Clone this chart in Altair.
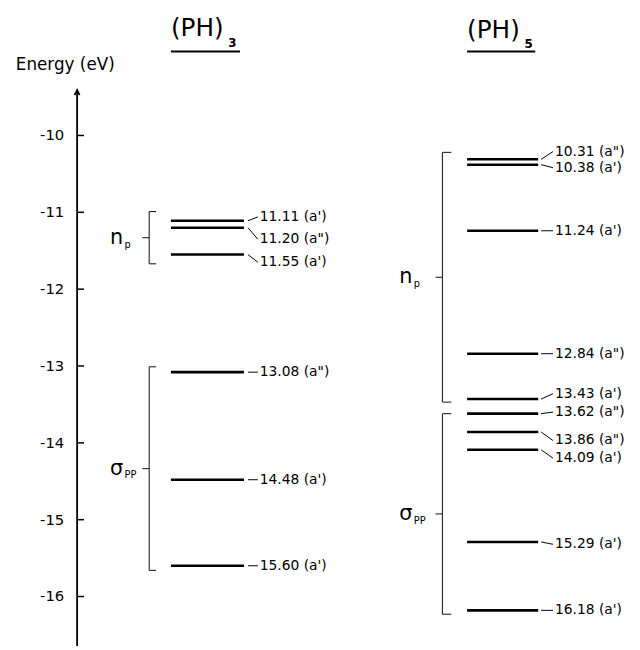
import altair as alt
import pandas as pd

# ---------------- data ----------------
ph3_energy = [-11.11, -11.20, -11.55, -13.08, -14.48, -15.60]
ph3_sym = ["a'", 'a"', "a'", 'a"', "a'", "a'"]
ph3_label_at = [-11.06, -11.35, -11.65, -13.08, -14.48, -15.60]

ph5_energy = [-10.31, -10.38, -11.24, -12.84, -13.43, -13.62, -13.86, -14.09, -15.29, -16.18]
ph5_sym = ['a"', "a'", "a'", 'a"', "a'", 'a"', 'a"', "a'", "a'", "a'"]
ph5_label_at = [-10.21, -10.42, -11.24, -12.84, -13.36, -13.60, -13.97, -14.20, -15.32, -16.18]

axis_ticks = [-10, -11, -12, -13, -14, -15, -16]

bracket_mol = ["PH3", "PH3", "PH5", "PH5"]
bracket_sym = ["n", "σ", "n", "σ"]
bracket_sub = ["p", "PP", "p", "PP"]
bracket_top = [-10.99, -13.01, -10.22, -13.62]
bracket_bottom = [-11.67, -15.66, -13.47, -16.23]

# ---------------- layout (chart pixels) ----------------
W, H = 632, 642
FONT = "DejaVu Sans"
col = {
    "PH3": dict(x0=165, x1=239, lx0=243, lx1=253, tx=255, bx=143, lab=110),
    "PH5": dict(x0=465, x1=537, lx0=540, lx1=552, tx=554, bx=440, lab=403),
}

rows = []
for mol, en, sy, la in [("PH3", ph3_energy, ph3_sym, ph3_label_at),
                        ("PH5", ph5_energy, ph5_sym, ph5_label_at)]:
    for e, s, l in zip(en, sy, la):
        c = col[mol]
        rows.append(dict(mol=mol, energy=e, label_energy=l,
                         text=f"{abs(e):.2f} ({s})",
                         x0=c["x0"], x1=c["x1"], lx0=c["lx0"], lx1=c["lx1"], tx=c["tx"]))
levels = pd.DataFrame(rows)

brows = []
for m, sy, sb, t, b in zip(bracket_mol, bracket_sym, bracket_sub, bracket_top, bracket_bottom):
    c = col[m]
    bx = c["bx"]
    tick = 7 if m == "PH3" else 9
    brows.append(dict(sym=sy, sub=sb, top=t, bottom=b, mid=(t + b) / 2,
                      bx=bx, bxr=bx + tick, bxl=bx - 7,
                      lab=c["lab"], sublab=c["lab"] + 8))
brackets = pd.DataFrame(brows)

ticks = pd.DataFrame({"e": axis_ticks,
                      "lab": [f"-{abs(t)}" for t in axis_ticks]})

xs = alt.Scale(domain=[0, W], nice=False, zero=False)
ys = alt.Scale(domain=[-16.643, -8.394], nice=False, zero=False)


def X(f):
    return alt.X(f, type="quantitative", scale=xs, axis=None)


def Y(f):
    return alt.Y(f, type="quantitative", scale=ys, axis=None)


one = pd.DataFrame({"k": [0]})

# axis
axis_line = alt.Chart(one).mark_rule(color="black", strokeWidth=1.8).encode(
    x=alt.value(70), y=alt.value(79), y2=alt.value(H))
arrow = alt.Chart(one).mark_point(
    shape="M-0.8,1.6L0,0L0.8,1.6", filled=False, color="black",
    strokeWidth=1.8, size=40, opacity=1).encode(x=alt.value(70), y=alt.value(79))
tick_marks = alt.Chart(ticks).mark_rule(color="black", strokeWidth=1.5).encode(
    x=alt.value(70), x2=alt.value(77), y=Y("e"))
tick_labels = alt.Chart(ticks).mark_text(
    align="right", baseline="middle", font=FONT, fontSize=15, color="black").encode(
    x=alt.value(57), y=Y("e"), text="lab:N")
energy_title = alt.Chart(one).mark_text(
    align="center", baseline="middle", font=FONT, fontSize=17, color="black").encode(
    x=alt.value(58), y=alt.value(54), text=alt.value("Energy (eV)"))

# column titles
titles = []
for x0, x1, ty, sub, sy in [(165, 235, 16, "3", 31), (465, 534, 18, "5", 32)]:
    titles.append(alt.Chart(one).mark_text(
        align="left", baseline="middle", font=FONT, fontSize=25, color="black").encode(
        x=alt.value(x0), y=alt.value(ty), text=alt.value("(PH)")))
    titles.append(alt.Chart(one).mark_text(
        align="left", baseline="middle", font=FONT, fontSize=12, fontWeight="bold",
        color="black").encode(
        x=alt.value(x0 + 58), y=alt.value(sy), text=alt.value(sub)))
    titles.append(alt.Chart(one).mark_rule(color="black", strokeWidth=2).encode(
        x=alt.value(x0), x2=alt.value(x1), y=alt.value(40)))

# energy levels
level_lines = alt.Chart(levels).mark_rule(color="black", strokeWidth=2.6).encode(
    x=X("x0"), x2=alt.X2("x1"), y=Y("energy"))
leaders = alt.Chart(levels).mark_rule(color="black", strokeWidth=1).encode(
    x=X("lx0"), x2=alt.X2("lx1"), y=Y("energy"), y2=alt.Y2("label_energy"))
level_labels = alt.Chart(levels).mark_text(
    align="left", baseline="middle", font=FONT, fontSize=14, color="black").encode(
    x=X("tx"), y=Y("label_energy"), text="text:N")

# brackets
b_vert = alt.Chart(brackets).mark_rule(color="#222", strokeWidth=1.1).encode(
    x=X("bx"), y=Y("top"), y2=alt.Y2("bottom"))
b_top = alt.Chart(brackets).mark_rule(color="#222", strokeWidth=1.1).encode(
    x=X("bx"), x2=alt.X2("bxr"), y=Y("top"))
b_bot = alt.Chart(brackets).mark_rule(color="#222", strokeWidth=1.1).encode(
    x=X("bx"), x2=alt.X2("bxr"), y=Y("bottom"))
b_mid = alt.Chart(brackets).mark_rule(color="#222", strokeWidth=1.1).encode(
    x=X("bxl"), x2=alt.X2("bx"), y=Y("mid"))
b_sym = alt.Chart(brackets).mark_text(
    align="center", baseline="alphabetic", dy=6, font=FONT, fontSize=21, color="black").encode(
    x=X("lab"), y=Y("mid"), text="sym:N")
b_sub = alt.Chart(brackets).mark_text(
    align="left", baseline="alphabetic", dy=10, font=FONT, fontSize=10, color="black").encode(
    x=X("sublab"), y=Y("mid"), text="sub:N")

chart = alt.layer(
    axis_line, arrow, tick_marks, tick_labels, energy_title, *titles,
    b_vert, b_top, b_bot, b_mid, b_sym, b_sub,
    level_lines, leaders, level_labels,
).properties(
    width=W, height=H, autosize="none", padding=0
).configure_view(stroke=None)

chart.save("out.html", embed_options={"renderer": "svg", "actions": False})
